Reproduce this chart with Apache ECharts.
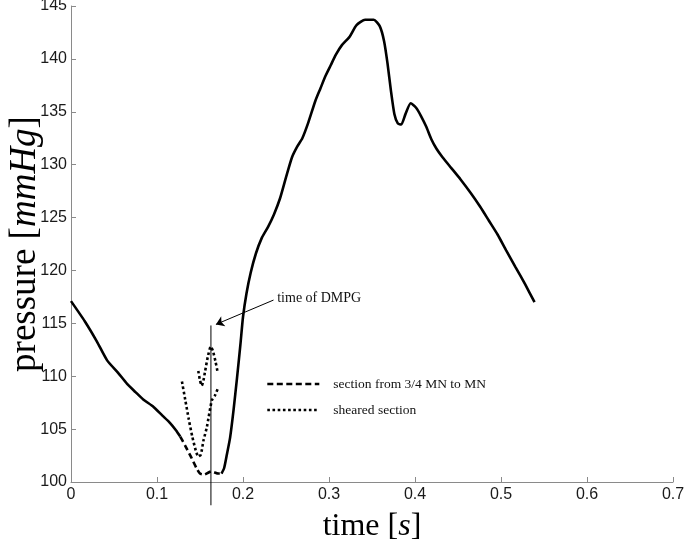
<!DOCTYPE html>
<html>
<head>
<meta charset="utf-8">
<script src="https://cdn.jsdelivr.net/npm/echarts@6/dist/echarts.min.js"></script>
<style>
html, body { margin: 0; padding: 0; background: #fff; }
#chart { width: 685px; height: 550px; }
</style>
</head>
<body>
<div id="chart"></div>
<script>
// pressure trace [time s, pressure mmHg]
const solidBefore = [[0, 117.1], [0.016, 115.2], [0.03, 113.3], [0.042, 111.5], [0.055, 110.3], [0.065, 109.3],
  [0.075, 108.5], [0.084, 107.8], [0.096, 107.1], [0.106, 106.3], [0.115, 105.6], [0.122, 104.9], [0.127, 104.3]];
// section from 3/4 MN to MN
const sectionDashed = [[0.127, 104.3], [0.133, 103.4], [0.14, 102.3], [0.146, 101.3], [0.15, 100.8], [0.155, 100.7],
  [0.16, 100.9], [0.163, 101.0], [0.167, 100.9], [0.171, 100.8], [0.175, 100.8]];
const solidAfter = [[0.175, 100.8], [0.178, 101.3], [0.181, 102.5], [0.185, 104.2], [0.189, 106.8], [0.193, 109.8],
  [0.197, 113.0], [0.2, 115.6], [0.204, 117.8], [0.209, 119.8], [0.215, 121.6], [0.222, 123.1], [0.229, 124.1],
  [0.236, 125.3], [0.243, 126.8], [0.25, 128.8], [0.257, 130.7], [0.263, 131.7], [0.269, 132.5], [0.276, 134.0],
  [0.284, 136.0], [0.29, 137.2], [0.296, 138.4], [0.302, 139.4], [0.308, 140.4], [0.315, 141.3], [0.324, 142.1],
  [0.332, 143.2], [0.342, 143.7], [0.352, 143.7], [0.359, 143.1], [0.364, 141.7], [0.368, 139.6], [0.372, 137.0],
  [0.376, 134.8], [0.38, 133.9], [0.384, 133.8], [0.389, 134.8], [0.395, 135.8], [0.401, 135.4], [0.407, 134.6],
  [0.413, 133.6], [0.419, 132.4], [0.425, 131.5], [0.432, 130.7], [0.442, 129.7], [0.453, 128.6], [0.465, 127.3],
  [0.476, 126.0], [0.486, 124.7], [0.496, 123.4], [0.506, 121.9], [0.517, 120.3], [0.528, 118.7], [0.539, 117.0]];
// sheared section (two dotted strands)
const shearedLower = [[0.129, 109.5], [0.133, 107.7], [0.137, 105.9], [0.141, 104.3], [0.145, 103.0], [0.148, 102.4],
  [0.151, 102.6], [0.154, 103.9], [0.158, 105.2], [0.1637, 107.7], [0.1675, 108.2], [0.1715, 109.0]];
const shearedUpper = [[0.148, 110.5], [0.15, 109.6], [0.152, 109.1], [0.154, 109.6], [0.156, 110.5], [0.159, 111.8],
  [0.1625, 112.8], [0.165, 112.4], [0.168, 111.4], [0.1705, 110.4]];
// time of DMPG marker and its arrow
const dmpgLine = [[0.1627, 114.8], [0.1627, 97.8]];
const arrowFrom = [0.2355, 117.2];
const arrowTo = [0.1685, 114.9];

const serif = 'Liberation Serif';
const sans = 'Liberation Sans';
const axisGray = '#8a8a8a';

let chart = echarts.init(document.getElementById('chart'));
let lineBase = (name, data, type) => ({
  name: name,
  type: 'line',
  data: data,
  symbol: 'none',
  smooth: 0.2,
  lineStyle: { color: '#000', width: 2.6, type: type, cap: 'butt' },
  itemStyle: { color: '#000' },
  z: 3
});
let nameRich = size => ({
  r: { fontFamily: serif, fontSize: size, color: '#000' },
  b: { fontFamily: serif, fontSize: size, color: '#000' },
  i: { fontFamily: serif, fontSize: size, fontStyle: 'italic', color: '#000' }
});

let option = {
  animation: false,
  grid: { left: 71, right: 12, top: 6, bottom: 68, containLabel: false, outerBoundsMode: 'none' },
  legend: {
    data: ['section from 3/4 MN to MN', 'sheared section'],
    orient: 'vertical',
    left: 266,
    top: 377,
    padding: 0,
    itemWidth: 52,
    itemHeight: 12,
    itemGap: 12,
    selectedMode: false,
    itemStyle: { opacity: 0 },
    lineStyle: { width: 2.6 },
    textStyle: { fontFamily: serif, fontSize: 13.5, color: '#111', padding: [0, 0, 0, 9] }
  },
  xAxis: {
    type: 'value',
    min: 0,
    max: 0.7,
    interval: 0.1,
    name: '{r|time }{b|[}{i|s}{b|]}',
    nameLocation: 'middle',
    nameGap: 29,
    nameMoveOverlap: false,
    nameTextStyle: { rich: nameRich(32) },
    axisLine: { show: true, lineStyle: { color: axisGray, width: 1 } },
    axisTick: { show: true, inside: true, length: 5, lineStyle: { color: axisGray } },
    splitLine: { show: false },
    axisLabel: { color: '#1a1a1a', fontSize: 16, fontFamily: sans, margin: 5 }
  },
  yAxis: {
    type: 'value',
    min: 100,
    max: 145,
    interval: 5,
    name: '{r|pressure }{b|[}{i|mmHg}{b|]}',
    nameLocation: 'middle',
    nameGap: 27,
    nameMoveOverlap: false,
    nameTextStyle: { rich: nameRich(37) },
    axisLine: { show: true, lineStyle: { color: axisGray, width: 1 } },
    axisTick: { show: true, inside: true, length: 5, lineStyle: { color: axisGray } },
    splitLine: { show: false },
    axisLabel: { color: '#1a1a1a', fontSize: 16, fontFamily: sans, margin: 4 }
  },
  series: [
    lineBase('pressure', solidBefore, 'solid'),
    lineBase('section from 3/4 MN to MN', sectionDashed, [6, 3.5]),
    lineBase('pressure', solidAfter, 'solid'),
    lineBase('sheared section', shearedLower, [2.6, 2.6]),
    lineBase('sheared section', shearedUpper, [2.6, 2.6]),
    {
      name: 'dmpg',
      type: 'line',
      data: dmpgLine,
      symbol: 'none',
      clip: false,
      lineStyle: { color: '#000', width: 1 },
      z: 2,
      markLine: {
        silent: true,
        symbol: ['none', 'arrow'],
        symbolSize: 8,
        lineStyle: { color: '#000', width: 1, type: 'solid' },
        label: {
          show: true,
          position: 'start',
          distance: 4,
          formatter: 'time of DMPG',
          fontFamily: serif,
          fontSize: 14,
          color: '#111'
        },
        data: [[{ coord: arrowFrom }, { coord: arrowTo }]]
      }
    }
  ]
};
chart.setOption(option, true);
window.addEventListener('resize', () => chart.resize());
</script>
</body>
</html>
